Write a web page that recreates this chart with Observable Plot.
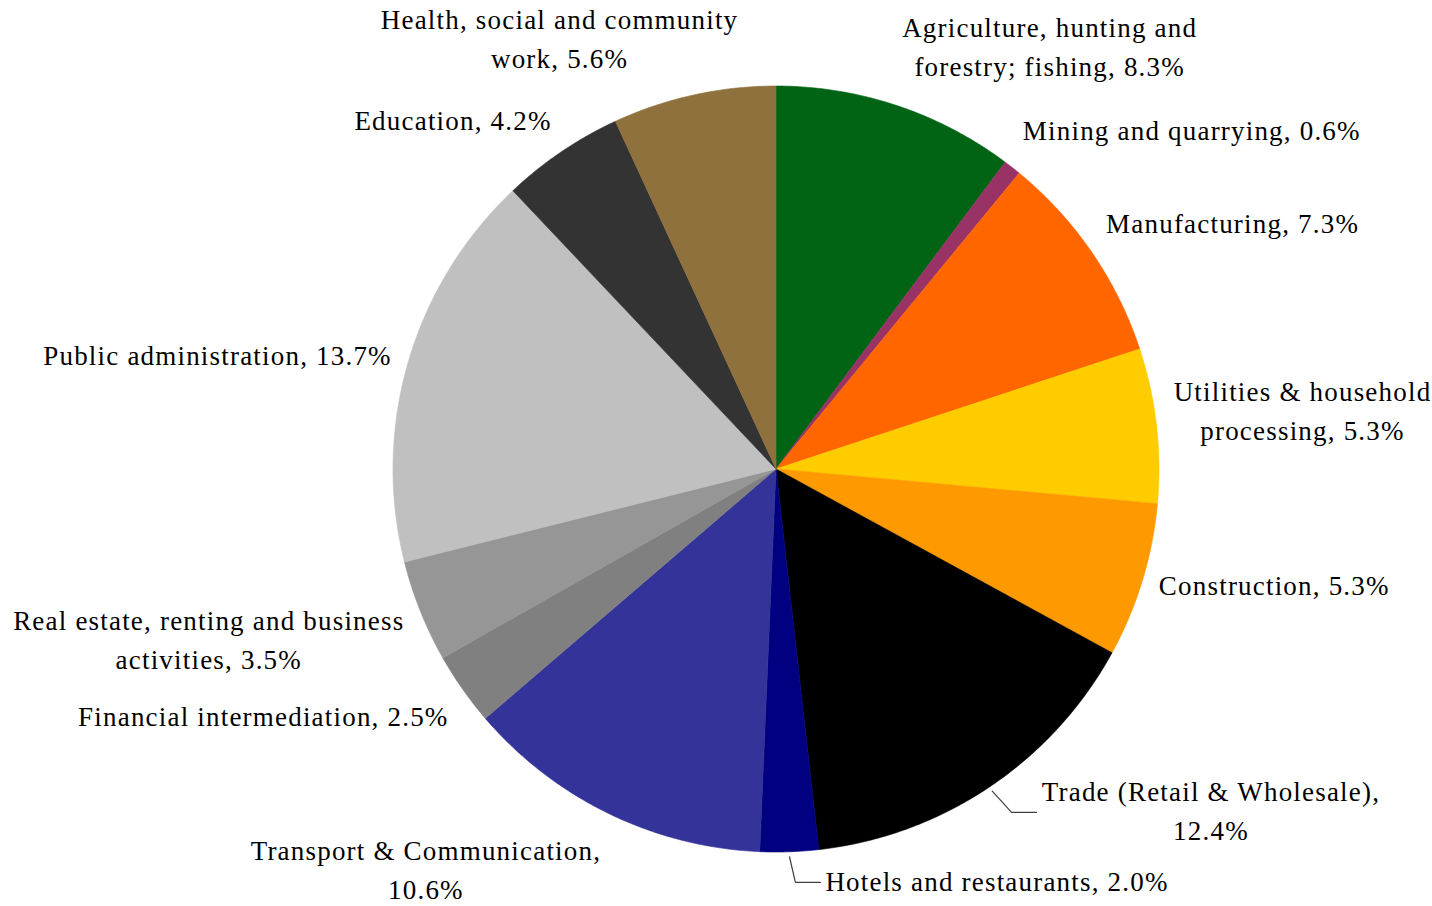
<!DOCTYPE html>
<html><head><meta charset="utf-8">
<script src="https://cdn.jsdelivr.net/npm/d3@7"></script>
<script src="https://cdn.jsdelivr.net/npm/@observablehq/plot@0.6"></script>
<style>html,body{margin:0;padding:0;background:#fff;} #chart svg{display:block;}</style>
</head><body><div id="chart"></div>
<script>
// ---- data ----
const categories = [
  "Agriculture, hunting and forestry; fishing",
  "Mining and quarrying",
  "Manufacturing",
  "Utilities & household processing",
  "Construction",
  "Trade (Retail & Wholesale)",
  "Hotels and restaurants",
  "Transport & Communication",
  "Financial intermediation",
  "Real estate, renting and business activities",
  "Public administration",
  "Education",
  "Health, social and community work"
];
const shares = [8.3, 0.6, 7.3, 5.3, 5.3, 12.4, 2.0, 10.6, 2.5, 3.5, 13.7, 4.2, 5.6];
const labels = [
  "Agriculture, hunting and\nforestry; fishing, 8.3%",
  "Mining and quarrying, 0.6%",
  "Manufacturing, 7.3%",
  "Utilities & household\nprocessing, 5.3%",
  "Construction, 5.3%",
  "Trade (Retail & Wholesale),\n12.4%",
  "Hotels and restaurants, 2.0%",
  "Transport & Communication,\n10.6%",
  "Financial intermediation, 2.5%",
  "Real estate, renting and business\nactivities, 3.5%",
  "Public administration, 13.7%",
  "Education, 4.2%",
  "Health, social and community\nwork, 5.6%"
];
const colors = ["#006414", "#993366", "#FF6600", "#FFCC00", "#FF9900", "#000000", "#000080",
                "#333399", "#808080", "#969696", "#C0C0C0", "#333333", "#8E713C"];
const leaderLabels = ["Trade (Retail & Wholesale)", "Hotels and restaurants"];

// ---- layout ----
const W = 1432, H = 906, CX = 775.5, CY = 468.5, R = 383;
const FONT_SIZE = 27, LINE_H = 39, LETTER_SP = 1.2;
const FONT = '"Liberation Serif", "Times New Roman", serif';
const px = 1 / R;
const BASE_FIX = 4; // px: raise text so its visual centre sits on the anchor

const total = d3.sum(shares);
let acc = 0;
const slices = categories.map((c, i) => {
  const a0 = acc / total * 2 * Math.PI; acc += shares[i];
  const a1 = acc / total * 2 * Math.PI;
  return {category: c, value: shares[i], label: labels[i], a0, a1, mid: (a0 + a1) / 2};
});

const polyPts = [];
for (const s of slices) {
  polyPts.push({category: s.category, x: 0, y: 0});
  const n = Math.max(2, Math.ceil((s.a1 - s.a0) / (Math.PI / 360)));
  for (let k = 0; k <= n; k++) {
    const a = s.a0 + (s.a1 - s.a0) * k / n;
    polyPts.push({category: s.category, x: Math.sin(a), y: Math.cos(a)});
  }
  polyPts.push({category: s.category, x: 0, y: 0});
}

const ctx = document.createElement("canvas").getContext("2d");
ctx.font = `${FONT_SIZE}px ${FONT}`;
const textW = l => ctx.measureText(l).width + l.length * LETTER_SP;
const clamp = v => Math.max(-1, Math.min(1, v));

const labelPts = [], leaderPts = [];
for (const s of slices) {
  const sx = Math.sin(s.mid), sy = Math.cos(s.mid);
  const lines = s.label.split("\n");
  const w = d3.max(lines, textW);
  const h = lines.length * LINE_H;
  if (leaderLabels.includes(s.category)) {
    const sg = sx >= 0 ? 1 : -1;
    const ex = 1.08 * sx + 30 * px * sg, ey = 1.08 * sy;
    leaderPts.push({id: s.category, x: 1.013 * sx, y: 1.013 * sy});
    leaderPts.push({id: s.category, x: ex - 25 * px * sg, y: ey});
    leaderPts.push({id: s.category, x: ex, y: ey});
    labelPts.push({label: s.label, x: ex + (5 + w / 2) * px * sg, y: ey + BASE_FIX * px});
  } else {
    const LR = 1.045;
    const fx = clamp(3.4 * sx), fy = clamp(1.2 * sy);
    labelPts.push({
      label: s.label,
      x: LR * sx + fx * w / 2 * px,
      y: LR * sy + fy * h / 2 * px + (BASE_FIX + 6 * sx) * px
    });
  }
}

const chart = Plot.plot({
  width: W, height: H, margin: 0,
  x: {domain: [-1, 1], range: [CX - R, CX + R], axis: null},
  y: {domain: [-1, 1], range: [CY + R, CY - R], axis: null},
  color: {domain: categories, range: colors},
  style: {background: "#fff", letterSpacing: LETTER_SP + "px"},
  marks: [
    Plot.line(polyPts, {x: "x", y: "y", z: "category", fill: "category", stroke: "category",
                        strokeWidth: 0.6, strokeLinejoin: "round", curve: "linear"}),
    Plot.line(leaderPts, {x: "x", y: "y", z: "id", stroke: "#404040", strokeWidth: 1.2}),
    Plot.text(labelPts, {x: "x", y: "y", text: "label", textAnchor: "middle", lineAnchor: "middle",
                         fontSize: FONT_SIZE, lineHeight: LINE_H / FONT_SIZE, fontFamily: FONT, fill: "#000"})
  ]
});
document.getElementById("chart").appendChild(chart);
</script>
</body></html>
